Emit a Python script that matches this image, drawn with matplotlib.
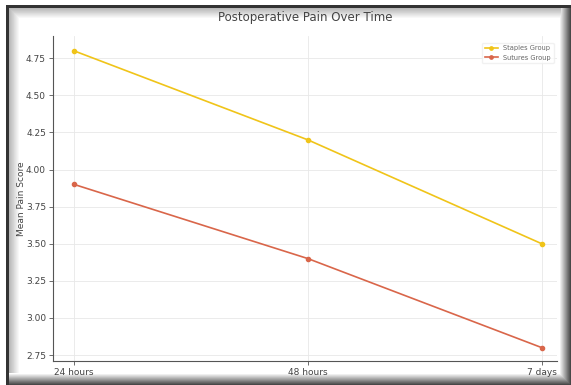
import matplotlib
matplotlib.use("Agg")
import matplotlib.pyplot as plt
import numpy as np

time_points = ["24 hours", "48 hours", "7 days"]
staples = [4.8, 4.2, 3.5]
sutures = [3.9, 3.4, 2.8]

W, H = 571, 385
fig = plt.figure(figsize=(W / 100, H / 100), dpi=100)

# screenshot-like frame: thin dark edge top/left, soft shadow right/bottom
bg = np.ones((H, W))
for i in range(10):
    v = 0.72 + 0.028 * i
    bg[8 + i:H - 12, 9 + i] = np.minimum(bg[8 + i:H - 12, 9 + i], v)
    bg[8 + i, 9 + i:W - 10] = np.minimum(bg[8 + i, 9 + i:W - 10], v)
for i in range(12):
    v = 1.0 - 0.065 * i
    bg[6:H - 12 + i + 1, W - 12 + i] = np.minimum(bg[6:H - 12 + i + 1, W - 12 + i], v)
    bg[H - 12 + i, 6:W] = np.minimum(bg[H - 12 + i, 6:W], v)
bg[5:8, 6:W] = 0.2
bg[5:H, 6:9] = 0.2
bax = fig.add_axes([0, 0, 1, 1], zorder=-5)
bax.imshow(bg, cmap="gray", vmin=0, vmax=1, aspect="auto", interpolation="nearest")
bax.axis("off")

ax = fig.add_axes([53 / W, 1 - 361 / H, (557 - 53) / W, (361 - 36) / H])
ax.set_facecolor("white")
x = range(len(time_points))
ax.plot(x, staples, marker="o", markersize=3, linewidth=1.2, color="#f0c419", label="Staples Group")
ax.plot(x, sutures, marker="o", markersize=3, linewidth=1.2, color="#d9664a", label="Sutures Group")

ax.set_xticks(list(x))
ax.set_xticklabels(time_points, fontsize=6.5, color="#444444")
ax.set_xlim(-0.09, 2.065)
ax.set_ylim(2.71, 4.9)
ax.set_yticks([2.75, 3.0, 3.25, 3.5, 3.75, 4.0, 4.25, 4.5, 4.75])
ax.tick_params(axis="y", labelsize=6.5, labelcolor="#444444")
ax.tick_params(length=3, width=0.6, color="#555555", pad=2)
ax.grid(True, color="#e8e8e8", linewidth=0.6)
ax.set_axisbelow(True)
for s in ["top", "right"]:
    ax.spines[s].set_visible(False)
for s in ["left", "bottom"]:
    ax.spines[s].set_color("#555555")
    ax.spines[s].set_linewidth(0.8)

ax.set_ylabel("Mean Pain Score", fontsize=6.5, color="#444444", labelpad=0)
ax.set_title("Postoperative Pain Over Time", fontsize=8.5, color="#444444", pad=11)
leg = ax.legend(loc="upper right", fontsize=4.8, frameon=True, framealpha=0.8, edgecolor="#eeeeee",
                bbox_to_anchor=(1.0, 0.99), markerscale=0.8)
for t in leg.get_texts():
    t.set_color("#666666")

fig.savefig("out.png", dpi=100)
